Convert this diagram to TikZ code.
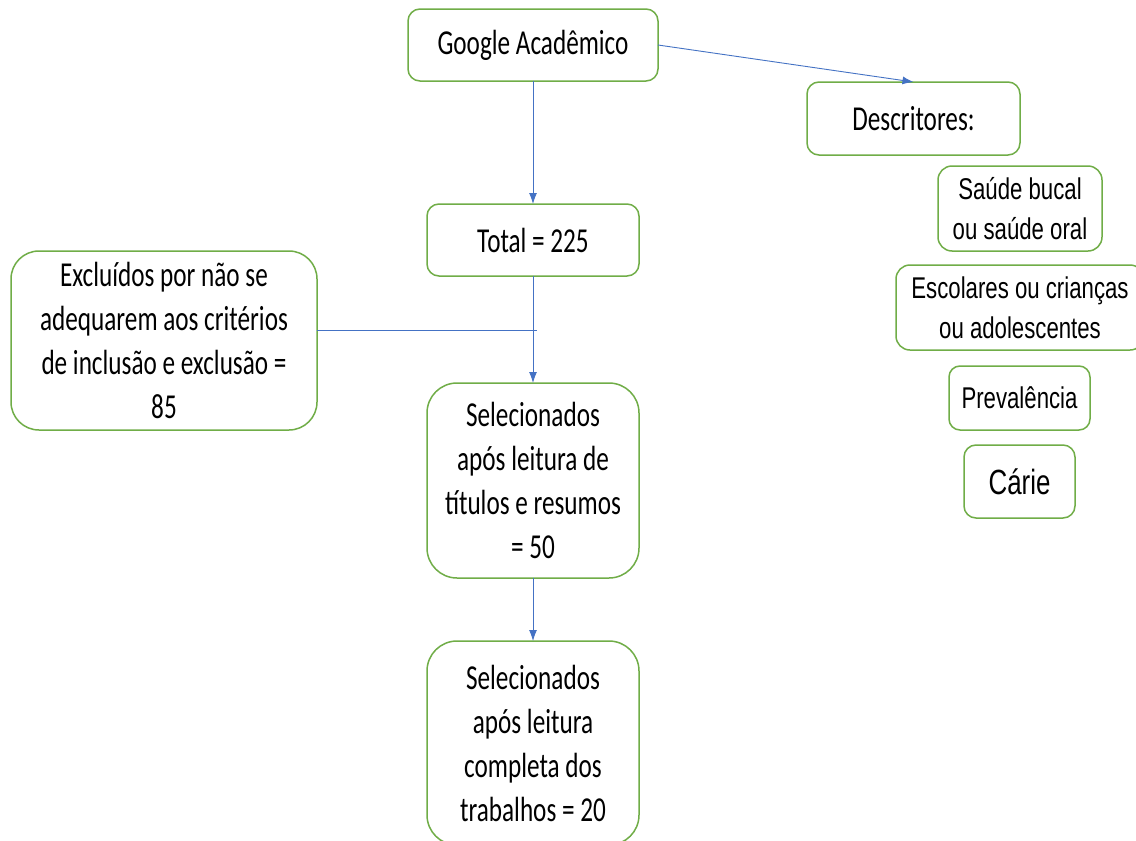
\documentclass[tikz,border=0pt]{standalone}
\usepackage{fontspec}
\setmainfont{Carlito}[FakeStretch=0.72]
\newfontfamily\arialc{Liberation Sans}[FakeStretch=0.74]
\usetikzlibrary{arrows.meta}
\definecolor{boxgreen}{HTML}{70AD47}
\definecolor{lineblue}{HTML}{4472C4}
\begin{document}
\begin{tikzpicture}[x=1pt,y=-1pt,
  box/.style={draw=boxgreen, line width=1.5pt, fill=white, rectangle, inner sep=0pt, outer sep=0pt, align=center},
  mainfont/.style={font=\fontsize{35}{44}\selectfont},
  descfont/.style={font=\arialc\fontsize{30}{40}\selectfont},
  conn/.style={draw=lineblue, line width=0.9pt},
  arr/.style={conn, -{Latex[length=11pt,width=8pt]}}]
\useasboundingbox (0,0) rectangle (1136,841);
\fill[white] (0,0) rectangle (1136,841);
\node[box, mainfont, minimum width=250pt, minimum height=72pt, rounded corners=12pt] (google) at (533,45) {Google Acadêmico};
\node[box, mainfont, minimum width=212pt, minimum height=72pt, rounded corners=12pt] (total) at (533,240) {Total = 225};
\node[box, mainfont, minimum width=213pt, minimum height=73pt, rounded corners=12pt] (desc) at (913.5,118.5) {Descritores:};
\node[box, descfont, minimum width=164pt, minimum height=85pt, rounded corners=14pt] (saude) at (1020,208.5) {Saúde bucal\\ou saúde oral};
\node[box, descfont, minimum width=248pt, minimum height=85pt, rounded corners=14pt] (escol) at (1020,307.5) {Escolares ou crianças\\ou adolescentes};
\node[box, descfont, minimum width=141pt, minimum height=64pt, rounded corners=11pt] (prev) at (1019.5,398) {Prevalência};
\node[box, font=\arialc\fontsize{35}{40}\selectfont, minimum width=111pt, minimum height=73pt, rounded corners=12pt] (carie) at (1019.5,481.5) {Cárie};
\node[box, mainfont, minimum width=306pt, minimum height=179pt, rounded corners=28pt] (excl) at (164,340.5) {Excluídos por não se\\adequarem aos critérios\\de inclusão e exclusão =\\85};
\node[box, mainfont, minimum width=212pt, minimum height=195pt, rounded corners=30pt] (sel1) at (533,480.5) {Selecionados\\após leitura de\\títulos e resumos\\= 50};
\node[box, mainfont, minimum width=212pt, minimum height=204pt, rounded corners=30pt] (sel2) at (533,743) {Selecionados\\após leitura\\completa dos\\trabalhos = 20};
\coordinate (j) at (537,330);
\draw[arr] (google.south) -- (total.north);
\draw[arr] (total.south) -- (sel1.north);
\draw[arr] (sel1.south) -- (sel2.north);
\draw[arr] (google.east) -- (desc.north);
\draw[conn] (excl.east |- j) -- (j);
\end{tikzpicture}
\end{document}
